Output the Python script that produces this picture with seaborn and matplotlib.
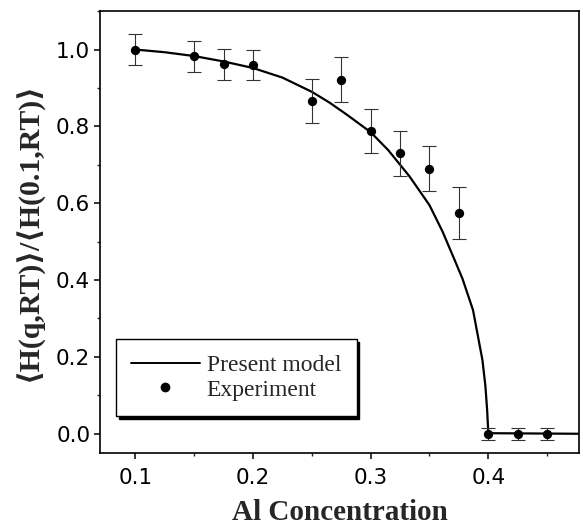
import matplotlib
matplotlib.use("Agg")
import matplotlib.pyplot as plt
from matplotlib.lines import Line2D
from matplotlib.ticker import MultipleLocator
import numpy as np
import pandas as pd
import seaborn as sns

# model curve
model_q = [0.1, 0.125, 0.15, 0.175, 0.2, 0.225, 0.25, 0.265, 0.28, 0.3,
           0.315, 0.333, 0.35, 0.361, 0.371, 0.378, 0.387, 0.395, 0.3975,
           0.399, 0.4, 0.4, 0.477]
model_h = [1.0, 0.993, 0.983, 0.969, 0.952, 0.927, 0.89, 0.862, 0.83, 0.785,
           0.738, 0.67, 0.595, 0.527, 0.455, 0.404, 0.322, 0.192, 0.125,
           0.062, 0.003, 0.0, 0.0]

# experiment points
exp_q = [0.1, 0.15, 0.175, 0.2, 0.25, 0.275, 0.3, 0.325, 0.35, 0.375, 0.4, 0.425, 0.45]
exp_h = [1.0, 0.982, 0.962, 0.96, 0.866, 0.922, 0.788, 0.73, 0.69, 0.575, 0.0, 0.0, 0.0]
exp_err = [0.04, 0.04, 0.04, 0.04, 0.058, 0.058, 0.057, 0.058, 0.058, 0.068, 0.015, 0.015, 0.015]

sns.set_style("ticks")
plt.rcParams['font.family'] = ['DejaVu Sans']
serif = ['Liberation Serif', 'DejaVu Serif']

fig = plt.figure(figsize=(5.83, 5.29), dpi=100)
ax = fig.add_axes([0.1715, 0.1437, 0.8215, 0.8353])

model = pd.DataFrame({'q': model_q, 'h': model_h})
sns.lineplot(data=model, x='q', y='h', sort=False, color='black', linewidth=1.6, ax=ax)

ax.errorbar(exp_q, exp_h, yerr=exp_err, fmt='none', ecolor='#333333',
            elinewidth=0.8, capsize=5, capthick=0.8, zorder=3)
sns.scatterplot(x=exp_q, y=exp_h, color='black', s=45, edgecolor='black',
                linewidth=0, zorder=4, ax=ax)

ax.set_xlim(0.07, 0.477)
ax.set_ylim(-0.05, 1.1)
ax.xaxis.set_minor_locator(MultipleLocator(0.05))
ax.yaxis.set_minor_locator(MultipleLocator(0.1))
ax.set_xticks([0.1, 0.2, 0.3, 0.4])
ax.set_xticklabels(['0.1', '0.2', '0.3', '0.4'])
ax.set_yticks([0.0, 0.2, 0.4, 0.6, 0.8, 1.0])
ax.set_yticklabels(['0.0', '0.2', '0.4', '0.6', '0.8', '1.0'])

for s in ax.spines.values():
    s.set_visible(True)
    s.set_linewidth(1.2)
    s.set_color('black')
ax.tick_params(which='major', direction='out', length=4, width=1.1,
               labelsize=15.5, colors='black')
ax.tick_params(axis='x', which='major', pad=7)
ax.tick_params(axis='y', which='major', pad=3)
ax.tick_params(which='minor', direction='out', length=2.5, width=1.0)

ax.set_xlabel('Al Concentration', family=serif, fontweight='bold', fontsize=21, labelpad=8)
ax.set_ylabel('\u27e8H(q,RT)\u27e9/\u27e8H(0.1,RT)\u27e9', family=serif,
              fontweight='bold', fontsize=21.5, labelpad=9)

handles = [Line2D([], [], color='black', linewidth=1.4),
           Line2D([], [], color='black', marker='o', linestyle='none', markersize=6)]
leg = ax.legend(handles, ['Present model', 'Experiment'], loc='lower left',
                bbox_to_anchor=(0.033, 0.084), borderaxespad=0, frameon=True,
                fancybox=False, shadow={'color': 'black', 'alpha': 1}, framealpha=1,
                edgecolor='black', handlelength=2.9, handletextpad=0.3,
                borderpad=0.65, labelspacing=0.13,
                prop={'family': serif, 'size': 17})
leg.get_frame().set_linewidth(1.0)

fig.savefig('out.png', dpi=100)
